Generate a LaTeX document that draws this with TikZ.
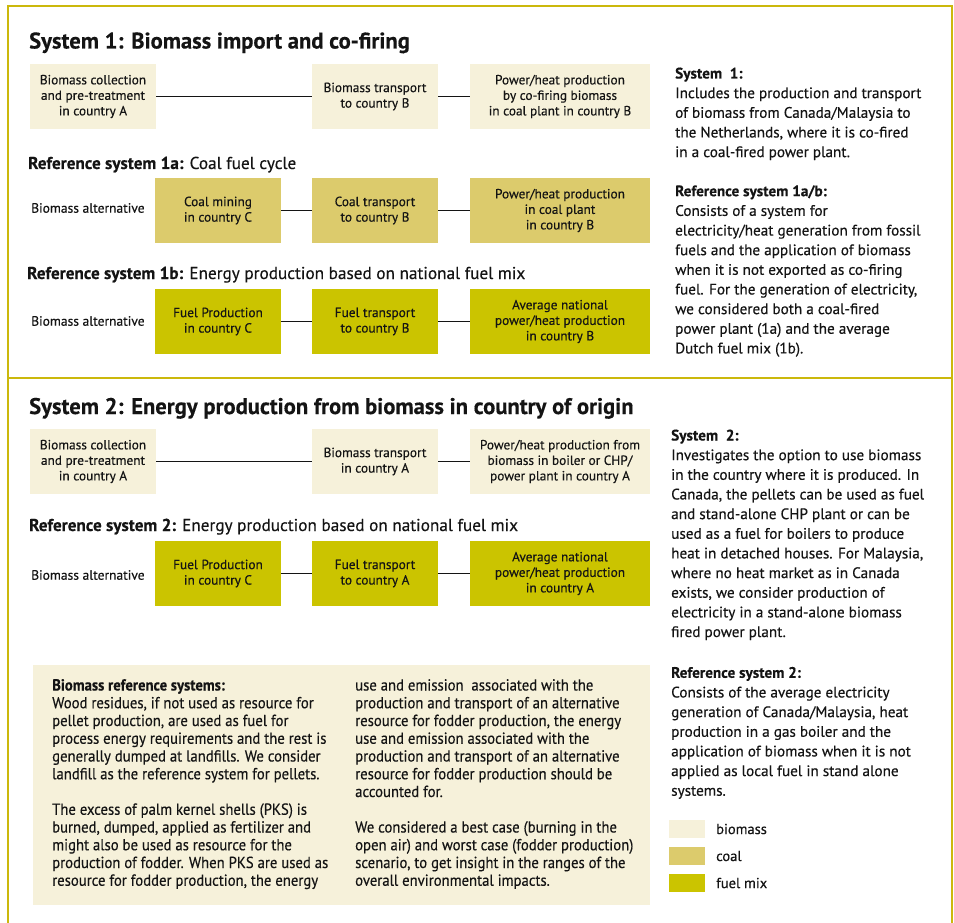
\documentclass[tikz,border=0pt]{standalone}
\usepackage{fontspec}
\setmainfont{PT Sans}[FakeBold=0.35]
\newfontfamily\condfont[FakeStretch=0.92,FakeBold=0.35]{PT Sans}
\definecolor{bio}{HTML}{F6F1DA}
\definecolor{coal}{HTML}{DCCB6C}
\definecolor{mix}{HTML}{CBC400}
\definecolor{framecol}{HTML}{CBB80C}
\definecolor{ink}{HTML}{141414}
\newcommand\tleft[1]{\begin{tabular}[t]{@{}l@{}}#1\end{tabular}}
\begin{document}
\begin{tikzpicture}[x=1pt,y=-1pt,
  every node/.style={inner sep=0pt, text=ink},
  stage/.style={minimum height=65pt, align=center, font=\fontsize{13.3}{15.5}\selectfont},
  narrow/.style={stage, minimum width=126pt},
  wide/.style={stage, minimum width=180pt},
  biobox/.style={fill=bio}, coalbox/.style={fill=coal}, mixbox/.style={fill=mix},
  link/.style={draw=ink, line width=1.4pt},
  frameline/.style={draw=framecol, line width=2.6pt},
  title/.style={anchor=base west, font=\bfseries\fontsize{22.6}{26}\selectfont},
  subtitle/.style={anchor=base west, font=\fontsize{17.2}{20}\selectfont},
  altlabel/.style={anchor=west, font=\fontsize{13.5}{16}\selectfont},
  side/.style={anchor=base west, font=\fontsize{15.2}{19.65}\selectfont},
  note/.style={anchor=base west, font=\condfont\fontsize{16}{17.75}\selectfont},
  swatch/.style={minimum width=36pt, minimum height=18pt, anchor=north west},
  legendlabel/.style={anchor=west, font=\fontsize{14.5}{16}\selectfont}]
\useasboundingbox (0,0) rectangle (954,923);
\fill[white] (0,0) rectangle (954,923);
% frame
\draw[frameline] (8,923) -- (8,6) -- (952,6) -- (952,923);
\draw[frameline] (8,378) -- (952,378);
% titles
\node[title] (t1) at (29,48.5) {System 1: Biomass import and co-firing};
\node[subtitle] (r1a) at (28,169) {\textbf{Reference system 1a:} Coal fuel cycle};
\node[subtitle] (r1b) at (27,279) {\textbf{Reference system 1b:} Energy production based on national fuel mix};
\node[title] (t2) at (29,414) {System 2: Energy production from biomass in country of origin};
\node[subtitle] (r2) at (29,531) {\textbf{Reference system 2:} Energy production based on national fuel mix};
% row 1
\node[narrow,biobox] (s1a) at (93,96.5) {Biomass collection\\and pre-treatment\\in country A};
\node[narrow,biobox] (s1b) at (375,96.5) {Biomass transport\\to country B};
\node[wide,biobox] (s1c) at (560,96.5) {Power/heat production\\by co-firing biomass\\in coal plant in country B};
\draw[link] (s1a) -- (s1b);
\draw[link] (s1b) -- (s1c);
% row 1a
\node[altlabel] (alt1a) at (31,208) {Biomass alternative};
\node[narrow,coalbox] (c1a) at (218,210.5) {Coal mining\\in country C};
\node[narrow,coalbox] (c1b) at (375,210.5) {Coal transport\\to country B};
\node[wide,coalbox] (c1c) at (560,210.5) {Power/heat production\\in coal plant\\in country B};
\draw[link] (c1a) -- (c1b);
\draw[link] (c1b) -- (c1c);
% row 1b
\node[altlabel] (alt1b) at (31,321) {Biomass alternative};
\node[narrow,mixbox] (f1a) at (218,321.5) {Fuel Production\\in country C};
\node[narrow,mixbox] (f1b) at (375,321.5) {Fuel transport\\to country B};
\node[wide,mixbox] (f1c) at (560,321.5) {Average national\\power/heat production\\in country B};
\draw[link] (f1a) -- (f1b);
\draw[link] (f1b) -- (f1c);
% row 2
\node[narrow,biobox] (s2a) at (93,461.5) {Biomass collection\\and pre-treatment\\in country A};
\node[narrow,biobox] (s2b) at (375,461.5) {Biomass transport\\in country A};
\node[wide,biobox] (s2c) at (560,461.5) {Power/heat production from\\biomass in boiler or CHP/\\power plant in country A};
\draw[link] (s2a) -- (s2b);
\draw[link] (s2b) -- (s2c);
% row 2 reference
\node[altlabel] (alt2) at (31,575) {Biomass alternative};
\node[narrow,mixbox] (f2a) at (218,573.5) {Fuel Production\\in country C};
\node[narrow,mixbox] (f2b) at (375,573.5) {Fuel transport\\to country A};
\node[wide,mixbox] (f2c) at (560,573.5) {Average national\\power/heat production\\in country A};
\draw[link] (f2a) -- (f2b);
\draw[link] (f2b) -- (f2c);
% side descriptions
\node[side] (d1) at (675,78.5) {\tleft{\textbf{System\ \ 1:}\\Includes the production and transport\\of biomass from Canada/Malaysia to\\the Netherlands, where it is co-fired\\in a coal-fired power plant.}};
\node[side] (d1r) at (675,196.2) {\tleft{\textbf{Reference system 1a/b:}\\Consists of a system for\\electricity/heat generation from fossil\\fuels and the application of biomass\\when it is not exported as co-firing\\fuel. For the generation of electricity,\\we considered both a coal-fired\\power plant (1a) and the average\\Dutch fuel mix (1b).}};
\node[side] (d2) at (671,440.5) {\tleft{\textbf{System\ \ 2:}\\Investigates the option to use biomass\\in the country where it is produced. In\\Canada, the pellets can be used as fuel\\and stand-alone CHP plant or can be\\used as a fuel for boilers to produce\\heat in detached houses. For Malaysia,\\where no heat market as in Canada\\exists, we consider production of\\electricity in a stand-alone biomass\\fired power plant.}};
\node[side] (d2r) at (671,677.8) {\tleft{\textbf{Reference system 2:}\\Consists of the average electricity\\generation of Canada/Malaysia, heat\\production in a gas boiler and the\\application of biomass when it is not\\applied as local fuel in stand alone\\systems.}};
% notes box
\node[fill=bio, minimum width=617pt, minimum height=240pt, anchor=north west] (notes) at (33,665) {};
\node[note] (n1) at (52,690.5) {\tleft{\textbf{Biomass reference systems:}\\Wood residues, if not used as resource for\\pellet production, are used as fuel for\\process energy requirements and the rest is\\generally dumped at landfills. We consider\\landfill as the reference system for pellets.\\ \\The excess of palm kernel shells (PKS) is\\burned, dumped, applied as fertilizer and\\might also be used as resource for the\\production of fodder. When PKS are used as\\resource for fodder production, the energy}};
\node[note] (n2) at (355,690.5) {\tleft{use and emission\ \ associated with the\\production and transport of an alternative\\resource for fodder production, the energy\\use and emission associated with the\\production and transport of an alternative\\resource for fodder production should be\\accounted for.\\ \\We considered a best case (burning in the\\open air) and worst case (fodder production)\\scenario, to get insight in the ranges of the\\overall environmental impacts.}};
% legend
\node[swatch,fill=bio] (lg1) at (669,820) {};
\node[swatch,fill=coal] (lg2) at (669,847) {};
\node[swatch,fill=mix] (lg3) at (669,874) {};
\node[legendlabel] (lt1) at (716,829) {biomass};
\node[legendlabel] (lt2) at (716,856) {coal};
\node[legendlabel] (lt3) at (716,883) {fuel mix};
\end{tikzpicture}
\end{document}
